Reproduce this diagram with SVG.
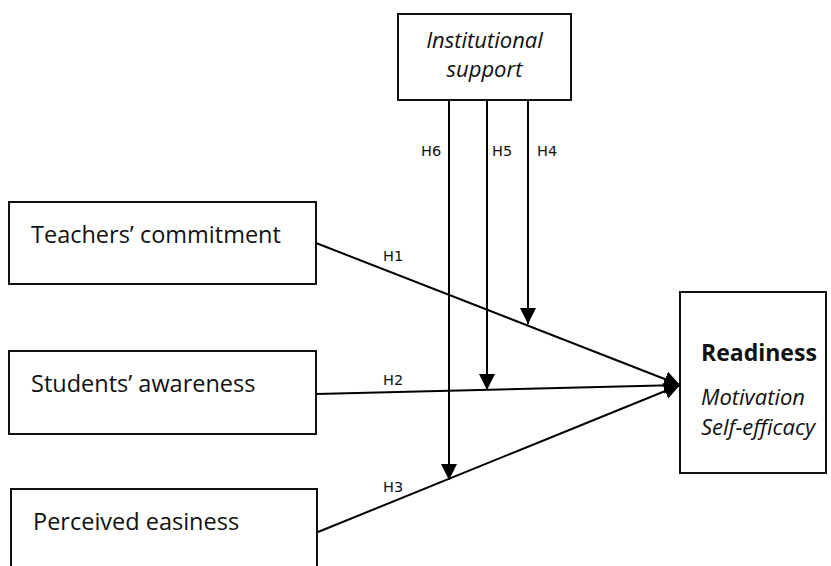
<svg xmlns="http://www.w3.org/2000/svg" width="831" height="566" viewBox="0 0 831 566">
<style>
.box{fill:#fff;stroke:#111;stroke-width:2}
.t{font-family:"Open Sans","Noto Sans",sans-serif;font-size:23.5px;fill:#111}
.it{font-style:italic;font-size:22px}
.b{font-weight:bold;font-size:23px}
.h{font-family:"DejaVu Sans",sans-serif;font-size:14.5px;fill:#111}
.ln{stroke:#000;stroke-width:2;fill:none}
</style>
<defs>
<marker id="ar" markerUnits="userSpaceOnUse" markerWidth="18" markerHeight="18" refX="16" refY="8" orient="auto">
<path d="M0,0 L16,8 L0,16 Z" fill="#000"/>
</marker>
</defs>
<rect width="831" height="566" fill="#fff"/>
<g id="institutional">
<rect class="box" x="398" y="14" width="173" height="86"/>
<text class="t it" x="484.5" y="48" text-anchor="middle">Institutional</text>
<text class="t it" x="484.5" y="77" text-anchor="middle">support</text>
</g>
<g id="teachers">
<rect class="box" x="9" y="202" width="307" height="82"/>
<text class="t" x="31" y="243">Teachers’ commitment</text>
</g>
<g id="students">
<rect class="box" x="9" y="351" width="307" height="83"/>
<text class="t" x="31" y="392">Students’ awareness</text>
</g>
<g id="perceived">
<rect class="box" x="11" y="489" width="306" height="90"/>
<text class="t" x="33" y="530">Perceived easiness</text>
</g>
<g id="readiness">
<rect class="box" x="680" y="292" width="146" height="181"/>
<text class="t b" x="701" y="361">Readiness</text>
<text class="t it" x="701" y="405">Motivation</text>
<text class="t it" x="701" y="435">Self-efficacy</text>
</g>
<g id="connectors">
<line class="ln" x1="316" y1="243" x2="680" y2="385" marker-end="url(#ar)"/>
<line class="ln" x1="316" y1="394" x2="680" y2="385" marker-end="url(#ar)"/>
<line class="ln" x1="318" y1="532" x2="680" y2="385" marker-end="url(#ar)"/>
<line class="ln" x1="528" y1="100" x2="528" y2="324" marker-end="url(#ar)"/>
<line class="ln" x1="487" y1="100" x2="487" y2="390" marker-end="url(#ar)"/>
<line class="ln" x1="449" y1="100" x2="449" y2="480" marker-end="url(#ar)"/>
<text class="h" x="383" y="261">H1</text>
<text class="h" x="383" y="385">H2</text>
<text class="h" x="383" y="492">H3</text>
<text class="h" x="537" y="156">H4</text>
<text class="h" x="492" y="156">H5</text>
<text class="h" x="421" y="156">H6</text>
</g>
</svg>
